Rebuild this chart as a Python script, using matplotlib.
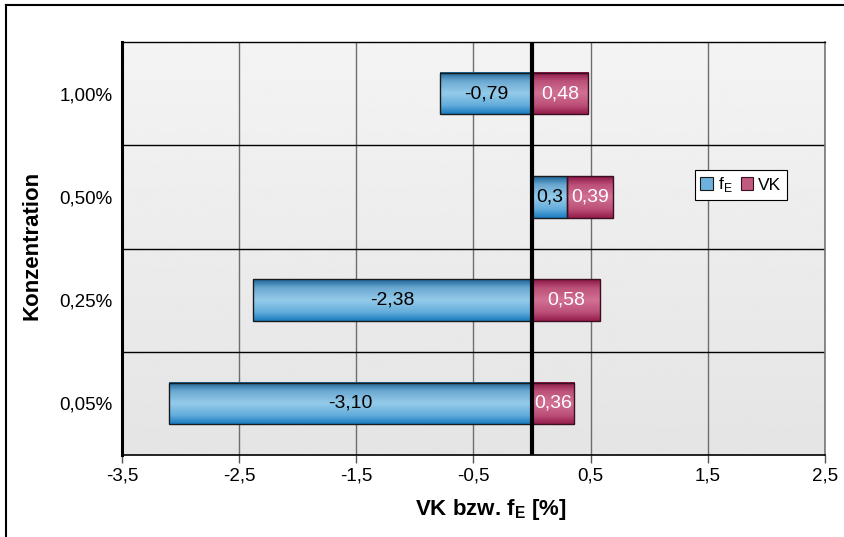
import numpy as np
import matplotlib
matplotlib.use("Agg")
import matplotlib.pyplot as plt
from matplotlib.colors import LinearSegmentedColormap
from matplotlib.patches import Rectangle
from matplotlib.lines import Line2D

plt.rcParams['font.family'] = ['Liberation Sans', 'DejaVu Sans']
plt.rcParams['mathtext.fontset'] = 'custom'
plt.rcParams['mathtext.rm'] = 'Liberation Sans'
plt.rcParams['mathtext.bf'] = 'Liberation Sans:bold'

# data
categories = ["0,05%", "0,25%", "0,50%", "1,00%"]
fe_values = [-3.10, -2.38, 0.3, -0.79]
vk_values = [0.36, 0.58, 0.39, 0.48]
fe_labels = ["-3,10", "-2,38", "0,3", "-0,79"]
vk_labels = ["0,36", "0,58", "0,39", "0,48"]
x_ticks = [-3.5, -2.5, -1.5, -0.5, 0.5, 1.5, 2.5]
x_ticklabels = ["-3,5", "-2,5", "-1,5", "-0,5", "0,5", "1,5", "2,5"]

W, H = 845, 537
fig = plt.figure(figsize=(W / 100, H / 100), dpi=100)
fig.patch.set_facecolor("white")

# outer chart frame (left and top edges)
fig.add_artist(Line2D([6 / W, 6 / W], [0, 1 - 5 / H], color="black", lw=1.5, transform=fig.transFigure))
fig.add_artist(Line2D([6 / W, 1], [1 - 5 / H, 1 - 5 / H], color="black", lw=1.5, transform=fig.transFigure))

L, R, T, B = 122, 825, 42, 455
ax = fig.add_axes([L / W, 1 - B / H, (R - L) / W, (B - T) / H])
ax.set_xlim(-3.5, 2.5)
ax.set_ylim(-0.5, 3.5)
ax.set_facecolor("none")

# plot area background gradient
bg = np.linspace(0.955, 0.895, 256).reshape(-1, 1)
ax.imshow(bg, cmap="gray", vmin=0, vmax=1, extent=[0, 1, 0, 1], transform=ax.transAxes,
          aspect="auto", zorder=0, interpolation="bicubic")

# grid lines
for xt in x_ticks:
    ax.axvline(xt, color="#6e6e6e", lw=1.0, zorder=1)
for yb in [0.5, 1.5, 2.5]:
    ax.axhline(yb, color="black", lw=1.0, zorder=1)

blue_cmap = LinearSegmentedColormap.from_list(
    "blue", [(0, "#1a7cbf"), (0.2, "#62acdb"), (0.5, "#95cbe9"), (0.8, "#6aa7d1"), (1, "#1b6496")])
pink_cmap = LinearSegmentedColormap.from_list(
    "pink", [(0, "#951d4c"), (0.2, "#bb4e77"), (0.5, "#d27193"), (0.8, "#bb4f78"), (1, "#8a1645")])

y = np.arange(len(categories))
fe = np.array(fe_values)
vk = np.array(vk_values)
vk_left = np.where(fe > 0, fe, 0.0)
h = 0.4

grad = np.linspace(0, 1, 64).reshape(-1, 1)
bars_fe = ax.barh(y, fe, height=h, left=0, facecolor="none", edgecolor="#1a1a1a", lw=1.0, zorder=4)
bars_vk = ax.barh(y, vk, height=h, left=vk_left, facecolor="none", edgecolor="#3a1020", lw=1.0, zorder=4)

for bars, cmap in [(bars_fe, blue_cmap), (bars_vk, pink_cmap)]:
    for b in bars:
        x0, y0 = b.get_x(), b.get_y()
        w, hh = b.get_width(), b.get_height()
        xa, xb = sorted([x0, x0 + w])
        ax.imshow(grad, cmap=cmap, extent=[xa, xb, y0 + hh, y0], aspect="auto",
                  zorder=3, interpolation="bicubic")

ax.set_xlim(-3.5, 2.5)
ax.set_ylim(-0.5, 3.5)

# value labels
for b, lab in zip(bars_fe, fe_labels):
    ax.text(b.get_x() + b.get_width() / 2, b.get_y() + b.get_height() / 2, lab,
            ha="center", va="center", fontsize=14, color="black", zorder=6)
for b, lab in zip(bars_vk, vk_labels):
    ax.text(b.get_x() + b.get_width() / 2, b.get_y() + b.get_height() / 2, lab,
            ha="center", va="center", fontsize=14, color="white", zorder=6)

# zero axis line
ax.axvline(0, color="black", lw=3, zorder=5)

# spines
ax.spines["left"].set_color("black")
ax.spines["left"].set_linewidth(2.2)
ax.spines["bottom"].set_color("black")
ax.spines["bottom"].set_linewidth(1.2)
ax.spines["top"].set_color("black")
ax.spines["top"].set_linewidth(1.0)
ax.spines["right"].set_color("#777777")
ax.spines["right"].set_linewidth(1.2)
for s in ax.spines.values():
    s.set_zorder(6)

ax.set_xticks(x_ticks)
ax.set_xticklabels(x_ticklabels, fontsize=13.5)
ax.tick_params(axis="x", direction="out", length=6, width=1.0, color="#555555", pad=3)
ax.set_yticks(y)
ax.set_yticklabels(categories, fontsize=13.5)
ax.tick_params(axis="y", length=0, pad=7)

ax.set_xlabel(r"VK bzw. f$_\mathbf{E}$ [%]", fontsize=16, fontweight="bold")
ax.set_ylabel("Konzentration", fontsize=16, fontweight="bold")
ax.xaxis.set_label_coords((491 - L) / (R - L), -(510 - B) / (B - T), transform=ax.transAxes)
ax.yaxis.set_label_coords(-(L - 32) / (R - L), (B - 245) / (B - T), transform=ax.transAxes)
ax.xaxis.label.set_va("center")
ax.yaxis.label.set_va("center")

# legend
handles = [Rectangle((0, 0), 1, 1, facecolor="#6cb2de", edgecolor="#1a1a1a", lw=0.8),
           Rectangle((0, 0), 1, 1, facecolor="#c25a80", edgecolor="#3a1020", lw=0.8)]
leg = ax.legend(handles, [r"f$_\mathregular{E}$", "VK"], loc="center",
                bbox_to_anchor=((741 - L) / (R - L), 1 - (185 - T) / (B - T)),
                ncol=2, frameon=True, fancybox=False, edgecolor="black", framealpha=1,
                fontsize=12.5, handlelength=0.7, handleheight=0.7, handletextpad=0.3,
                columnspacing=0.5, borderpad=0.3, borderaxespad=0)
leg.get_frame().set_linewidth(0.8)
leg.set_zorder(7)

fig.savefig("out.png", dpi=100)
